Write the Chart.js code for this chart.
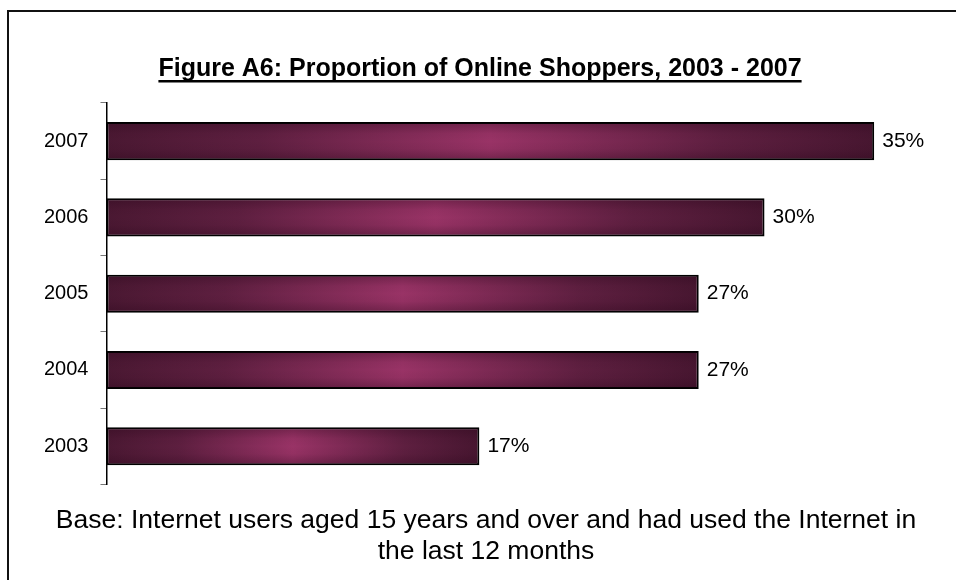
<!DOCTYPE html>
<html>
<head>
<meta charset="utf-8">
<title>Proportion of Online Shoppers</title>
<script src="https://cdn.jsdelivr.net/npm/chart.js@4/dist/chart.umd.min.js"></script>
<style>
  html, body { margin: 0; padding: 0; background: #fff; }
  #wrap { width: 956px; height: 580px; }
</style>
</head>
<body>
<div id="wrap"><canvas id="shoppersChart" width="956" height="580"></canvas></div>
<script>
'use strict';
var years = ['2003', '2004', '2005', '2006', '2007'];
var shoppers = [17, 27, 27, 30, 35];
var titleText = 'Figure A6: Proportion of Online Shoppers, 2003 - 2007';
var baseNote = ['Base: Internet users aged 15 years and over and had used the Internet in', 'the last 12 months'];

var fontFamily = '"Liberation Sans", Arial, sans-serif';
Chart.defaults.font.family = fontFamily;
Chart.defaults.color = '#000';

// dark ends, plum in the middle
function barGradient(context){
  var chart = context.chart;
  if (!chart.chartArea || !chart.scales.x) {
    return '#7a2a52';
  }
  var xs = chart.scales.x;
  var x0 = xs.getPixelForValue(0);
  var x1 = xs.getPixelForValue(context.raw);
  var g = chart.ctx.createLinearGradient(x0, 0, x1, 0);
  g.addColorStop(0, '#4a1832');
  g.addColorStop(0.2, '#5e1f40');
  g.addColorStop(0.5, '#993366');
  g.addColorStop(0.8, '#5e1f40');
  g.addColorStop(1, '#471630');
  return g;
}

// frame round the whole figure, title nudged to the page middle
var framePlugin = {
  id: 'frame',
  afterLayout: function(chart){
    if (chart.titleBlock) {
      chart.titleBlock.left -= 12;
    }
  },
  beforeDraw: function(chart){
    var ctx = chart.ctx;
    ctx.save();
    ctx.fillStyle = '#fff';
    ctx.fillRect(0, 0, chart.width, chart.height);
    ctx.strokeStyle = '#111';
    ctx.lineWidth = 2;
    ctx.strokeRect(8, 11, chart.width + 20, chart.height + 20);
    ctx.restore();
  }
};

// underline under the title
var underlinePlugin = {
  id: 'underline',
  afterDraw: function(chart){
    var tb = chart.titleBlock;
    if (!tb) return;
    var ctx = chart.ctx;
    ctx.save();
    ctx.font = 'bold 25px ' + fontFamily;
    var w = ctx.measureText(titleText).width;
    var cx = (tb.left + tb.right) / 2;
    var y = tb.top + tb.options.padding.top + 26;
    ctx.fillStyle = '#000';
    ctx.fillRect(cx - w / 2, y, w, 2.5);
    ctx.restore();
  }
};

// top/bottom shading on each bar plus the value text
var barExtras = {
  id: 'barExtras',
  afterDatasetsDraw: function(chart){
    var ctx = chart.ctx;
    var meta = chart.getDatasetMeta(0);
    ctx.save();
    meta.data.forEach(function(bar, i){
      var top = bar.y - bar.height / 2;
      var left = Math.min(bar.base, bar.x);
      var w = Math.abs(bar.x - bar.base);
      var g = ctx.createLinearGradient(0, top, 0, top + bar.height);
      g.addColorStop(0, 'rgba(40,5,25,0.35)');
      g.addColorStop(0.3, 'rgba(40,5,25,0.05)');
      g.addColorStop(0.5, 'rgba(40,5,25,0)');
      g.addColorStop(0.7, 'rgba(40,5,25,0.05)');
      g.addColorStop(1, 'rgba(40,5,25,0.35)');
      ctx.fillStyle = g;
      ctx.fillRect(left + 1.5, top + 1.5, w - 3, bar.height - 3);

      ctx.fillStyle = '#000';
      ctx.font = '21px ' + fontFamily;
      ctx.textAlign = 'left';
      ctx.textBaseline = 'middle';
      ctx.fillText(shoppers[i] + '%', bar.x + 8, bar.y);
    });
    ctx.restore();
  }
};

var ctx = document.getElementById('shoppersChart').getContext('2d');
var chart = new Chart(ctx, {
  type: 'bar',
  data: {
    labels: years,
    datasets: [{
      label: 'Online shoppers',
      data: shoppers,
      backgroundColor: barGradient,
      borderColor: '#000',
      borderWidth: 2,
      borderSkipped: false,
      barPercentage: 0.5,
      categoryPercentage: 1
    }]
  },
  options: {
    responsive: false,
    animation: false,
    indexAxis: 'y',
    layout: { padding: { left: 32, right: 16, top: 0, bottom: 0 } },
    scales: {
      x: {
        display: false,
        min: 0,
        max: 38
      },
      y: {
        reverse: true,
        grid: {
          drawOnChartArea: false,
          drawTicks: true,
          tickLength: 6,
          color: '#777'
        },
        border: { display: true, color: '#000', width: 1.5 },
        ticks: {
          padding: 12,
          font: { size: 20 },
          color: '#000'
        }
      }
    },
    plugins: {
      legend: { display: false },
      tooltip: { enabled: false },
      title: {
        display: true,
        text: titleText,
        color: '#000',
        font: { size: 25, weight: 'bold', lineHeight: 1.2 },
        padding: { top: 54, bottom: 19 }
      },
      subtitle: {
        display: true,
        position: 'bottom',
        text: baseNote,
        color: '#000',
        font: { size: 26.5, weight: 'normal', lineHeight: 1.2 },
        padding: { top: 20, bottom: 12 }
      }
    }
  },
  plugins: [framePlugin, underlinePlugin, barExtras]
});
</script>
</body>
</html>
